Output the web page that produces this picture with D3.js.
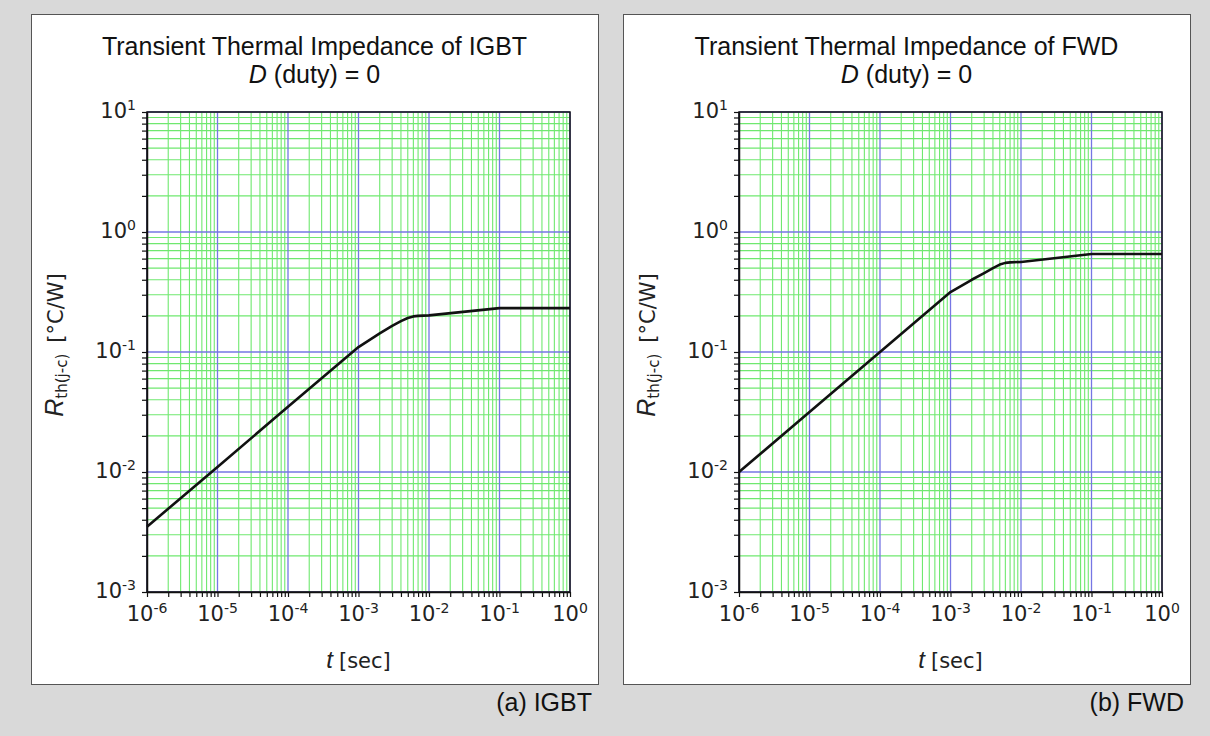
<!DOCTYPE html>
<html>
<head>
<meta charset="utf-8">
<script src="https://cdn.jsdelivr.net/npm/d3@7"></script>
<style>
  html, body { margin: 0; padding: 0; background: #d9d9d9; }
  svg { display: block; }
</style>
</head>
<body>
<svg id="chart" width="1210" height="736"></svg>
<script>
// Transient thermal impedance curves, single pulse (D = 0)
const timeDecades = [1e-6, 1e-5, 1e-4, 1e-3, 1e-2, 1e-1, 1];
const rthDecades = [1e-3, 1e-2, 1e-1, 1, 10];
const timeExponents = [-6, -5, -4, -3, -2, -1, 0];
const rthExponents = [-3, -2, -1, 0, 1];

const igbtTime = [1e-6, 1e-5, 1e-4, 1e-3, 2e-3, 3e-3, 4e-3, 5e-3, 6e-3, 7e-3, 1e-2, 1e-1, 1];
const igbtRth  = [0.0035, 0.011, 0.035, 0.11, 0.143, 0.165, 0.181, 0.192, 0.198, 0.2, 0.202, 0.232, 0.232];

const fwdTime = [1e-6, 1e-5, 1e-4, 1e-3, 2e-3, 3e-3, 4e-3, 5e-3, 6e-3, 7e-3, 1e-2, 1e-1, 1];
const fwdRth  = [0.01, 0.0316, 0.1, 0.316, 0.4, 0.455, 0.5, 0.535, 0.553, 0.558, 0.563, 0.655, 0.655];

const panels = [
  { title: "Transient Thermal Impedance of IGBT", caption: "(a) IGBT", time: igbtTime, rth: igbtRth, left: 31 },
  { title: "Transient Thermal Impedance of FWD",  caption: "(b) FWD",  time: fwdTime,  rth: fwdRth,  left: 623 }
];

const svg = d3.select("#chart");
const boxW = 567, boxTop = 14, boxH = 670;
const plot = { dx: 116, top: 112, w: 423, h: 480 };
const sansTitle = "'Liberation Sans', Arial, sans-serif";
const sansTick = "'DejaVu Sans', Verdana, sans-serif";

function minorValues(decades) {
  const out = [];
  for (let i = 0; i < decades.length - 1; i++) {
    for (let k = 2; k <= 9; k++) out.push(decades[i] * k);
  }
  return out;
}

panels.forEach(p => {
  const g = svg.append("g");

  g.append("rect")
    .attr("x", p.left + 0.5).attr("y", boxTop + 0.5)
    .attr("width", boxW).attr("height", boxH)
    .attr("fill", "#fff").attr("stroke", "#555").attr("stroke-width", 1);

  const x0 = p.left + plot.dx;
  const x = d3.scaleLog().domain([1e-6, 1]).range([x0, x0 + plot.w]);
  const y = d3.scaleLog().domain([1e-3, 10]).range([plot.top + plot.h, plot.top]);

  // minor grid
  const grid = g.append("g");
  grid.selectAll("line.vx").data(minorValues(timeDecades)).join("line")
    .attr("x1", d => x(d)).attr("x2", d => x(d))
    .attr("y1", plot.top).attr("y2", plot.top + plot.h)
    .attr("stroke", "#6fe86f").attr("stroke-width", 1.1);
  grid.selectAll("line.hy").data(minorValues(rthDecades)).join("line")
    .attr("y1", d => y(d)).attr("y2", d => y(d))
    .attr("x1", x0).attr("x2", x0 + plot.w)
    .attr("stroke", "#6fe86f").attr("stroke-width", 1.1);
  // decade grid
  grid.selectAll("line.mx").data(timeDecades).join("line")
    .attr("x1", d => x(d)).attr("x2", d => x(d))
    .attr("y1", plot.top).attr("y2", plot.top + plot.h)
    .attr("stroke", "#7676e4").attr("stroke-width", 1.3);
  grid.selectAll("line.my").data(rthDecades).join("line")
    .attr("y1", d => y(d)).attr("y2", d => y(d))
    .attr("x1", x0).attr("x2", x0 + plot.w)
    .attr("stroke", "#7676e4").attr("stroke-width", 1.3);

  // frame
  g.append("rect")
    .attr("x", x0).attr("y", plot.top).attr("width", plot.w).attr("height", plot.h)
    .attr("fill", "none").attr("stroke", "#111").attr("stroke-width", 1.5);

  // axes: ticks at every decade and every sub-decade step
  const xAxis = d3.axisBottom(x)
    .tickValues(timeDecades.concat(minorValues(timeDecades)))
    .tickSize(5).tickSizeOuter(0).tickFormat("");
  const yAxis = d3.axisLeft(y)
    .tickValues(rthDecades.concat(minorValues(rthDecades)))
    .tickSize(5).tickSizeOuter(0).tickFormat("");

  const gx = g.append("g").attr("transform", `translate(0,${plot.top + plot.h})`).call(xAxis);
  const gy = g.append("g").attr("transform", `translate(${x0},0)`).call(yAxis);
  [gx, gy].forEach(a => {
    a.select(".domain").attr("stroke", "#111").attr("stroke-width", 1.5);
    a.selectAll(".tick line").attr("stroke", "#111").attr("stroke-width", 1.2);
  });

  // power-of-ten labels
  const xl = g.append("g").attr("font-family", sansTick).attr("fill", "#222");
  timeDecades.forEach((v, i) => {
    const t = xl.append("text")
      .attr("x", x(v)).attr("y", plot.top + plot.h + 29)
      .attr("text-anchor", "middle").attr("font-size", 21);
    t.append("tspan").text("10");
    t.append("tspan").attr("font-size", 14).attr("dy", -8).text(String(timeExponents[i]));
  });
  rthDecades.forEach((v, i) => {
    const t = xl.append("text")
      .attr("x", x0 - 11).attr("y", y(v) + 6)
      .attr("text-anchor", "end").attr("font-size", 21);
    t.append("tspan").text("10");
    t.append("tspan").attr("font-size", 14).attr("dy", -8).text(String(rthExponents[i]));
  });

  // curve
  const pts = p.time.map((t, i) => [t, p.rth[i]]);
  g.append("path")
    .datum(pts)
    .attr("fill", "none").attr("stroke", "#111").attr("stroke-width", 2.6)
    .attr("stroke-linejoin", "round")
    .attr("d", d3.line().x(d => x(d[0])).y(d => y(d[1])));

  // titles
  const cx = p.left + boxW / 2;
  g.append("text").attr("x", cx).attr("y", 55)
    .attr("text-anchor", "middle").attr("font-family", sansTitle).attr("font-size", 25)
    .attr("fill", "#111").text(p.title);
  const sub = g.append("text").attr("x", cx).attr("y", 83)
    .attr("text-anchor", "middle").attr("font-family", sansTitle).attr("font-size", 25)
    .attr("fill", "#111");
  sub.append("tspan").attr("font-style", "italic").text("D");
  sub.append("tspan").text(" (duty) = 0");

  // axis titles
  const xt = g.append("text")
    .attr("x", x0 + plot.w / 2).attr("y", 668)
    .attr("text-anchor", "middle").attr("fill", "#222");
  xt.append("tspan").attr("font-family", sansTitle).attr("font-style", "italic").attr("font-size", 24).text("t");
  xt.append("tspan").attr("font-family", sansTick).attr("font-size", 21).attr("dx", 6).text("[sec]");

  const yt = g.append("text")
    .attr("transform", `translate(${p.left + 32},${plot.top + plot.h / 2 - 7}) rotate(-90)`)
    .attr("text-anchor", "middle").attr("fill", "#222");
  yt.append("tspan").attr("font-family", sansTitle).attr("font-style", "italic").attr("font-size", 25).text("R");
  yt.append("tspan").attr("font-family", sansTick).attr("font-size", 15).attr("dy", 4).text("th(j-c)");
  yt.append("tspan").attr("font-family", sansTick).attr("font-size", 21).attr("dy", -4).attr("dx", 11).text("[°C/W]");

  // panel caption
  g.append("text")
    .attr("x", p.left + boxW - 6).attr("y", 711)
    .attr("text-anchor", "end").attr("font-family", sansTitle).attr("font-size", 25)
    .attr("fill", "#111").text(p.caption);
});
</script>
</body>
</html>
